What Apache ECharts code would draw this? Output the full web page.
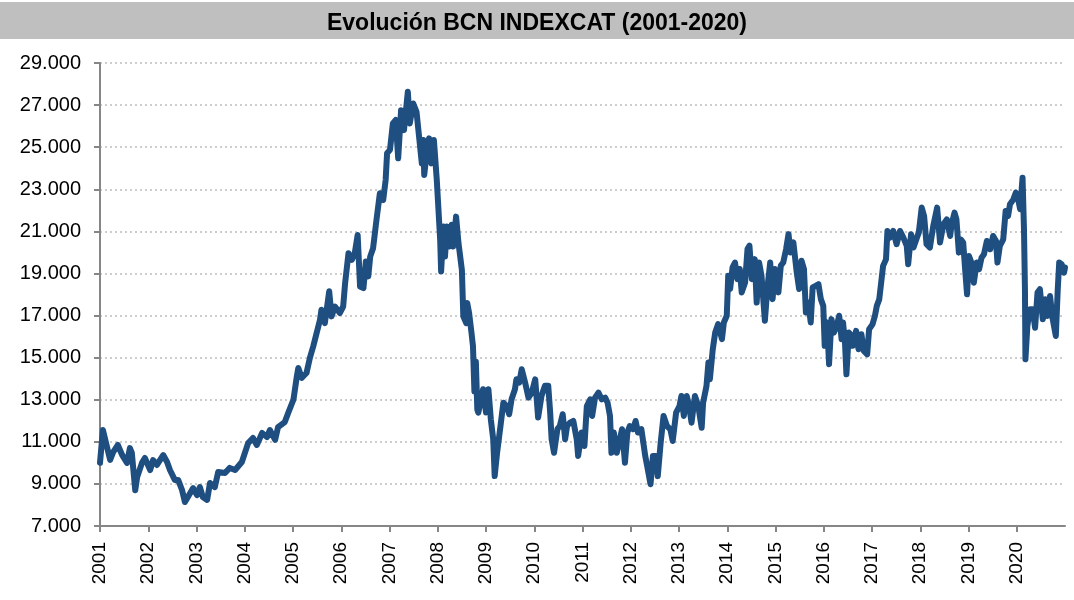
<!DOCTYPE html>
<html>
<head>
<meta charset="utf-8">
<title>Evolución BCN INDEXCAT</title>
<script src="https://cdn.jsdelivr.net/npm/echarts@6/dist/echarts.min.js"></script>
<style>
  html, body { margin: 0; padding: 0; background: #fff; }
  #chart { width: 1074px; height: 600px; }
</style>
</head>
<body>
<div id="chart"></div>
<script>
// fecha en años decimales / valor del índice
var years = [
  2001.00, 2001.06, 2001.21, 2001.27, 2001.37, 2001.46, 2001.56, 2001.62, 2001.66, 2001.73,
  2001.77, 2001.87, 2001.93, 2002.04, 2002.10, 2002.18, 2002.31, 2002.39, 2002.45, 2002.55,
  2002.62, 2002.70, 2002.76, 2002.87, 2002.93, 2003.01, 2003.07, 2003.13, 2003.22, 2003.28,
  2003.38, 2003.45, 2003.59, 2003.69, 2003.80, 2003.94, 2004.07, 2004.17, 2004.25, 2004.36,
  2004.46, 2004.52, 2004.63, 2004.69, 2004.83, 2004.90, 2005.01, 2005.08, 2005.11, 2005.18,
  2005.28, 2005.35, 2005.42, 2005.49, 2005.56, 2005.59, 2005.66, 2005.75, 2005.80, 2005.87,
  2005.97, 2006.04, 2006.08, 2006.15, 2006.22, 2006.28, 2006.34, 2006.39, 2006.46, 2006.51,
  2006.56, 2006.60, 2006.66, 2006.73, 2006.80, 2006.87, 2006.92, 2006.95, 2007.01, 2007.07,
  2007.13, 2007.18, 2007.24, 2007.30, 2007.38, 2007.42, 2007.49, 2007.56, 2007.62, 2007.67,
  2007.70, 2007.72, 2007.77, 2007.82, 2007.87, 2007.92, 2007.98, 2008.05, 2008.07, 2008.12,
  2008.15, 2008.19, 2008.24, 2008.29, 2008.32, 2008.38, 2008.43, 2008.50, 2008.53, 2008.59,
  2008.61, 2008.65, 2008.70, 2008.73, 2008.76, 2008.79, 2008.82, 2008.84, 2008.94, 2009.00,
  2009.05, 2009.10, 2009.15, 2009.18, 2009.23, 2009.30, 2009.36, 2009.43, 2009.48, 2009.53,
  2009.60, 2009.63, 2009.69, 2009.74, 2009.81, 2009.88, 2009.95, 2010.02, 2010.08, 2010.15,
  2010.22, 2010.29, 2010.33, 2010.36, 2010.41, 2010.48, 2010.53, 2010.59, 2010.64, 2010.68,
  2010.74, 2010.81, 2010.88, 2010.91, 2010.98, 2011.04, 2011.09, 2011.16, 2011.20, 2011.26,
  2011.33, 2011.40, 2011.47, 2011.52, 2011.57, 2011.60, 2011.65, 2011.71, 2011.76, 2011.82,
  2011.88, 2011.93, 2011.98, 2012.05, 2012.10, 2012.15, 2012.22, 2012.30, 2012.34, 2012.41,
  2012.46, 2012.52, 2012.56, 2012.62, 2012.68, 2012.75, 2012.82, 2012.87, 2012.94, 2013.01,
  2013.05, 2013.10, 2013.16, 2013.21, 2013.26, 2013.33, 2013.40, 2013.47, 2013.50, 2013.57,
  2013.61, 2013.64, 2013.70, 2013.75, 2013.81, 2013.89, 2013.93, 2013.99, 2014.02, 2014.06,
  2014.11, 2014.16, 2014.21, 2014.26, 2014.30, 2014.37, 2014.42, 2014.46, 2014.51, 2014.57,
  2014.61, 2014.66, 2014.71, 2014.78, 2014.83, 2014.89, 2014.94, 2014.99, 2015.06, 2015.11,
  2015.16, 2015.22, 2015.27, 2015.31, 2015.37, 2015.44, 2015.49, 2015.54, 2015.59, 2015.63,
  2015.68, 2015.73, 2015.77, 2015.84, 2015.89, 2015.94, 2015.99, 2016.02, 2016.07, 2016.11,
  2016.16, 2016.21, 2016.27, 2016.32, 2016.37, 2016.40, 2016.44, 2016.47, 2016.52, 2016.58,
  2016.60, 2016.67, 2016.72, 2016.78, 2016.83, 2016.90, 2016.94, 2017.01, 2017.06, 2017.10,
  2017.15, 2017.19, 2017.23, 2017.29, 2017.32, 2017.37, 2017.44, 2017.51, 2017.58, 2017.65,
  2017.72, 2017.75, 2017.81, 2017.86, 2017.93, 2017.97, 2018.03, 2018.08, 2018.13, 2018.20,
  2018.27, 2018.35, 2018.41, 2018.48, 2018.55, 2018.62, 2018.65, 2018.71, 2018.75, 2018.80,
  2018.84, 2018.89, 2018.93, 2018.97, 2019.01, 2019.06, 2019.11, 2019.17, 2019.22, 2019.27,
  2019.32, 2019.38, 2019.45, 2019.51, 2019.57, 2019.60, 2019.65, 2019.72, 2019.77, 2019.82,
  2019.86, 2019.93, 2019.98, 2020.03, 2020.07, 2020.12, 2020.15, 2020.17, 2020.18, 2020.22,
  2020.27, 2020.33, 2020.38, 2020.43, 2020.48, 2020.54, 2020.59, 2020.63, 2020.69, 2020.74,
  2020.77, 2020.81, 2020.85, 2020.88, 2020.93, 2020.98, 2021.00
];
var values = [
  10000, 11560, 10140, 10500, 10850, 10370, 10000, 10700, 10470, 8700,
  9330, 10000, 10230, 9660, 10130, 9900, 10370, 10040, 9660, 9190,
  9190, 8710, 8140, 8570, 8800, 8470, 8850, 8380, 8240, 9040,
  8850, 9570, 9520, 9760, 9660, 10040, 10940, 11180, 10850, 11420,
  11230, 11560, 11090, 11700, 11940, 12370, 13010, 14115, 14510, 14040,
  14270, 14985, 15540, 16170, 16800, 17280, 16640, 18150, 16960, 17430,
  17120, 17430, 18540, 19960, 19650, 19960, 20830, 18380, 18300, 19570,
  18860, 19800, 20200, 21540, 22810, 22490, 23440, 24710, 24870, 26130,
  26290, 24470, 26760, 25810, 27630, 26130, 27080, 26680, 25340, 24230,
  25340, 23680, 24710, 25420, 24230, 25340, 23440, 20600, 19100, 21230,
  19800, 21230, 20280, 21310, 20280, 21700, 20440, 19170, 16960, 16640,
  17600, 17120, 16170, 15540, 13400, 14800, 12530, 12390, 13500, 12390,
  13500, 12070, 11120, 9370, 10480, 11750, 12860, 12700, 12310, 13020,
  13500, 13970, 13820, 14450, 13820, 13100, 13340, 13970, 12150, 13180,
  13660, 13660, 12390, 11120, 10480, 11600, 11750, 12310, 11120, 11750,
  11910, 11990, 11120, 10330, 11440, 10800, 12700, 13020, 12230, 13100,
  13340, 13020, 13100, 12860, 12230, 10480, 11440, 10480, 10960, 11600,
  10010, 11440, 11750, 11600, 11990, 11440, 11600, 10330, 9850, 8980,
  10330, 10330, 9370, 10960, 12230, 11750, 11600, 11040, 12390, 12700,
  13180, 12230, 13180, 12700, 11910, 13180, 12700, 11670, 12860, 13660,
  14770, 13970, 15400, 16190, 16590, 15880, 16670, 16990, 18890, 18260,
  19290, 19520, 18730, 19210, 18100, 18570, 20160, 20320, 18730, 19680,
  17620, 19520, 18890, 16750, 18260, 19520, 17780, 19210, 18100, 19370,
  19520, 20160, 20870, 20000, 20480, 19050, 18260, 19600, 19210, 17150,
  17620, 16670, 18340, 18420, 18490, 17780, 17460, 15560, 16670, 14690,
  16830, 16190, 16510, 16990, 15880, 16670, 15720, 14210, 16190, 16040,
  15560, 16270, 15400, 16110, 15320, 15160, 16350, 16580, 16980, 17460,
  17770, 18560, 19360, 19670, 21020, 20700, 21020, 20390, 21020, 20700,
  20310, 19440, 20860, 20230, 20700, 20940, 22130, 21730, 20390, 20230,
  21260, 22130, 20470, 21340, 21570, 20780, 21340, 21890, 21570, 19990,
  20620, 20470, 19200, 18010, 19830, 19520, 18560, 19520, 19200, 19750,
  19910, 20540, 20150, 20780, 20540, 19520, 20310, 20620, 21970, 21730,
  22290, 22520, 22840, 22520, 22050, 23550, 21100, 18250, 14920, 16500,
  17300, 17300, 16420, 18090, 18250, 16820, 17770, 16980, 17930, 16900,
  16900, 16030, 18250, 19520, 19440, 19040, 19280
];
var yTicks = [7000, 9000, 11000, 13000, 15000, 17000, 19000, 21000, 23000, 25000, 27000, 29000];
var xTicks = [2001, 2002, 2003, 2004, 2005, 2006, 2007, 2008, 2009, 2010,
  2011, 2012, 2013, 2014, 2015, 2016, 2017, 2018, 2019, 2020];

var chart = echarts.init(document.getElementById('chart'), null, { renderer: 'canvas' });

var fontFam = "'Liberation Sans', Arial, sans-serif";

function miles(v) {
  // 29000 -> 29.000
  return String(v).replace(/\B(?=(\d{3})+(?!\d))/g, '.');
}

var option = {
  animation: false,
  backgroundColor: '#ffffff',
  graphic: [
    {
      type: 'rect',
      shape: { x: 0, y: 2, width: 1074, height: 37 },
      style: { fill: '#bfbfbf' },
      z: -1
    }
  ],
  title: {
    text: 'Evolución BCN INDEXCAT (2001-2020)',
    left: 'center',
    top: 7,
    textStyle: {
      fontFamily: fontFam,
      fontSize: 23,
      fontWeight: 'bold',
      color: '#000'
    }
  },
  grid: {
    left: 100,
    right: 9,
    top: 63,
    bottom: 74
  },
  xAxis: {
    type: 'value',
    min: xTicks[0],
    max: 2021,
    interval: 1,
    axisLine: { lineStyle: { color: '#868686', width: 2 } },
    axisTick: { show: true, length: 6, lineStyle: { color: '#868686', width: 2 } },
    splitLine: { show: false },
    axisLabel: {
      rotate: 90,
      margin: 16,
      fontFamily: fontFam,
      fontSize: 19,
      color: '#000',
      showMaxLabel: false,
      formatter: function (v) {
        return xTicks.indexOf(v) >= 0 ? String(v) : '';
      }
    }
  },
  yAxis: {
    type: 'value',
    min: yTicks[0],
    max: yTicks[yTicks.length - 1],
    interval: 2000,
    axisLine: { show: true, lineStyle: { color: '#868686', width: 2 } },
    axisTick: { show: true, length: 6, lineStyle: { color: '#868686', width: 2 } },
    splitLine: {
      show: true,
      lineStyle: { color: '#bdbdbd', width: 1.5, type: [2, 3] }
    },
    axisLabel: {
      margin: 19,
      fontFamily: fontFam,
      fontSize: 20,
      color: '#000',
      formatter: function (v) { return miles(v); }
    }
  },
  series: [
    {
      name: 'BCN INDEXCAT',
      type: 'line',
      data: years.map(function (y, i) { return [y, values[i]]; }),
      showSymbol: false,
      symbol: 'none',
      lineStyle: { color: '#1f4e80', width: 6, join: 'round', cap: 'round' },
      z: 3
    }
  ]
};

chart.setOption(option);
</script>
</body>
</html>
